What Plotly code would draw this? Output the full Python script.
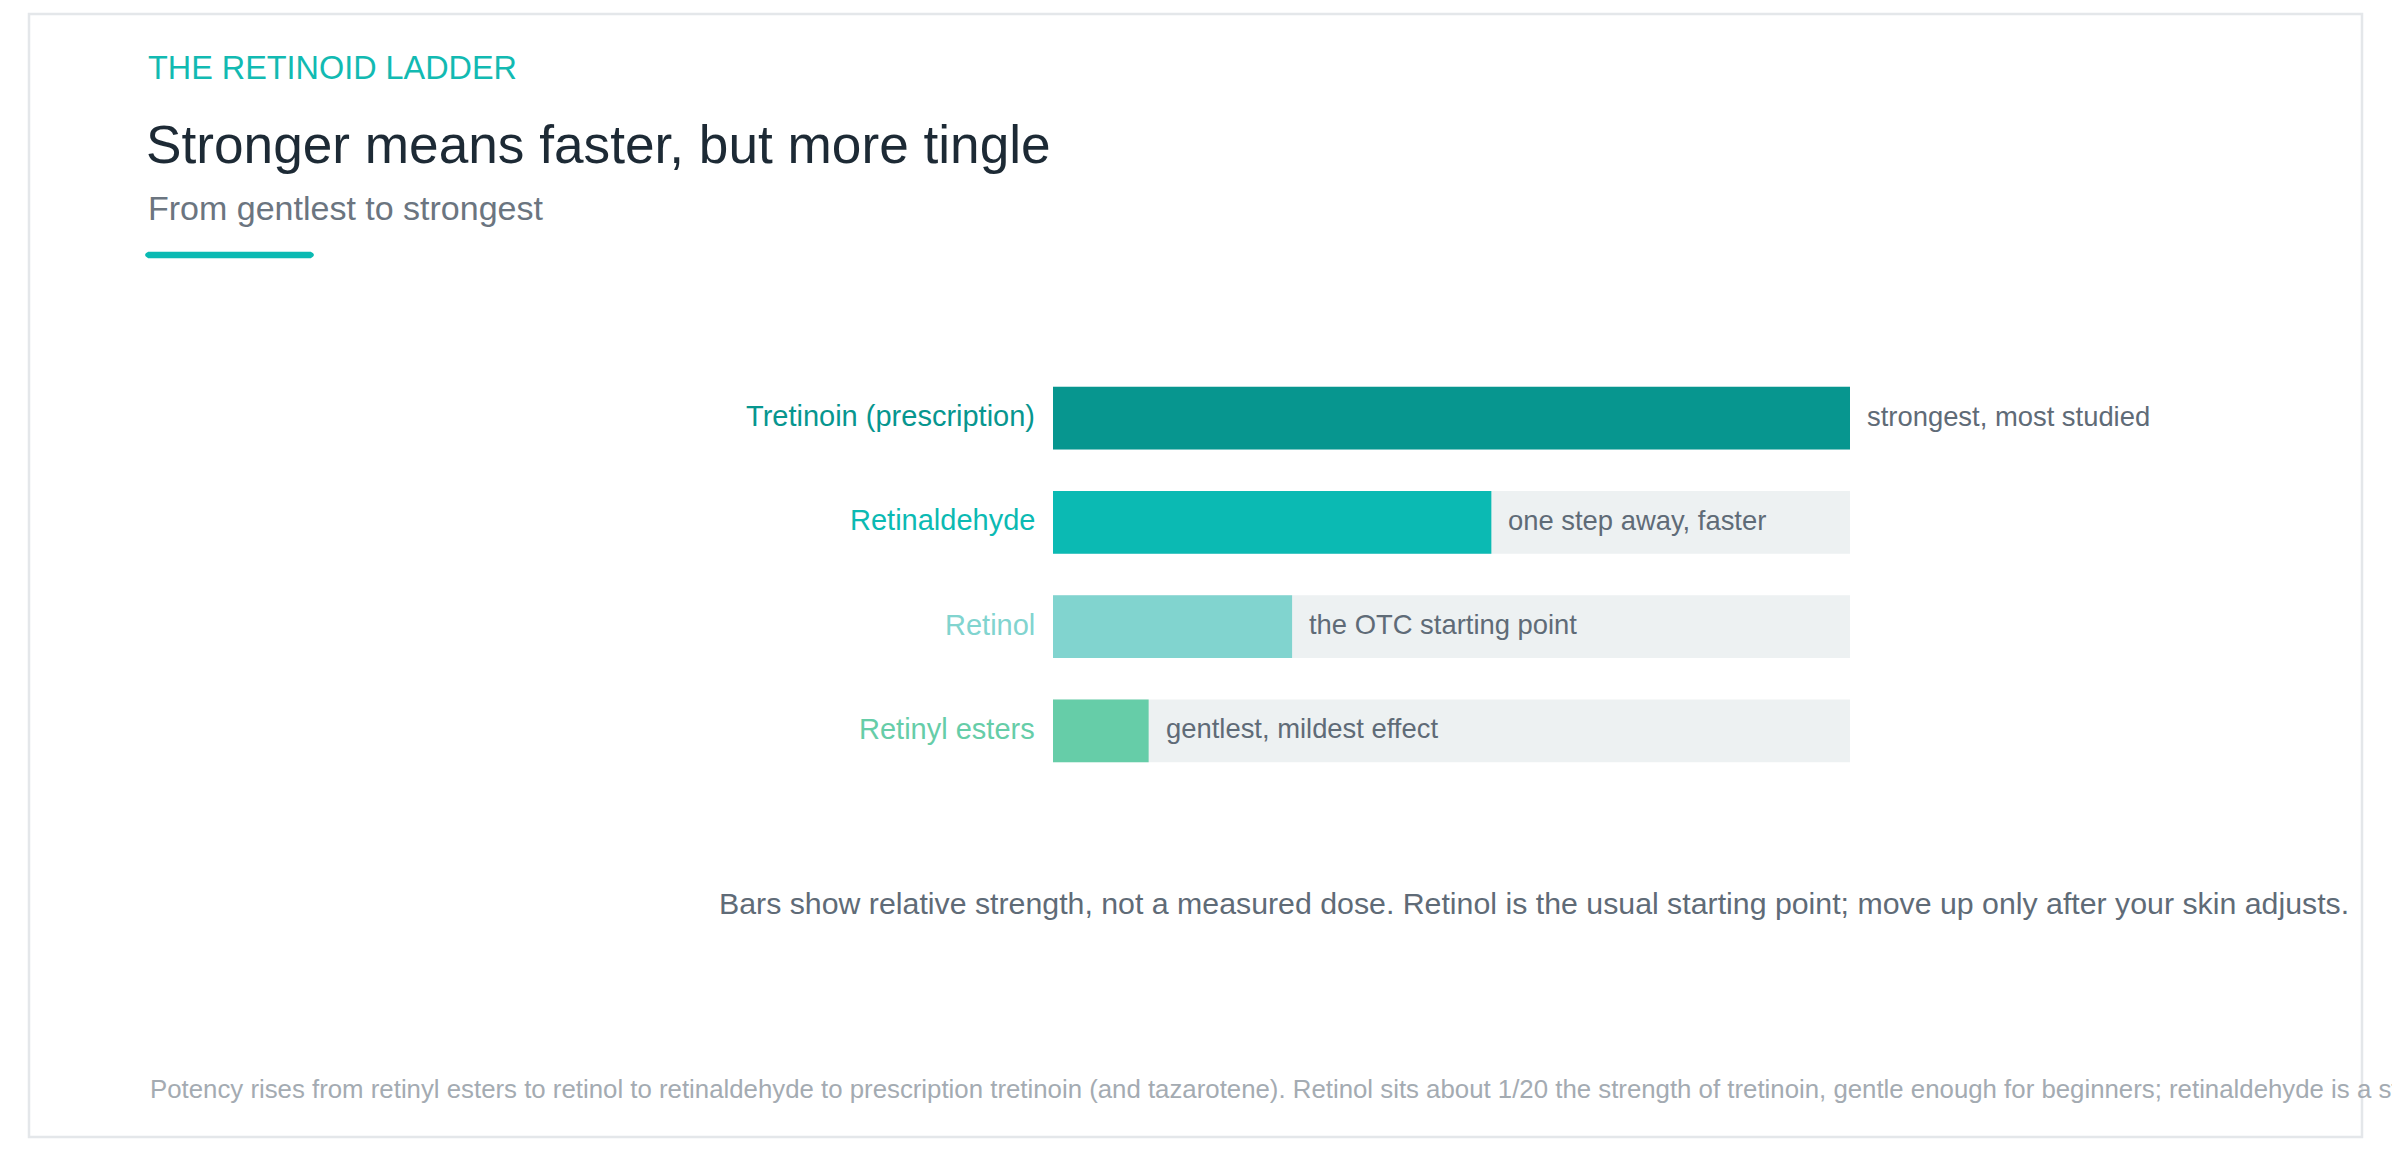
import plotly.graph_objects as go

# ---- data ----
categories = ["Tretinoin (prescription)", "Retinaldehyde", "Retinol", "Retinyl esters"]
strength = [100, 55, 30, 12]
notes = ["strongest, most studied", "one step away, faster", "the OTC starting point", "gentlest, mildest effect"]
bar_colors = ["#07968f", "#0bbab3", "#81d4cf", "#66cda8"]
track_max = 100

eyebrow = "THE RETINOID LADDER"
title = "Stronger means faster, but more tingle"
subtitle = "From gentlest to strongest"
note_text = ("Bars show relative strength, not a measured dose. Retinol is the usual starting point; "
             "move up only after your skin adjusts.")
footer_text = ("Potency rises from retinyl esters to retinol to retinaldehyde to prescription tretinoin "
               "(and tazarotene). Retinol sits about 1/20 the strength of tretinoin, gentle enough for "
               "beginners; retinaldehyde is a step closer to tretinoin, working faster with a little more irritation.")

# ---- layout geometry (pixels) ----
W, H = 2392, 1150
PL, PR = 1053, 1850     # plot area left/right
PT, PB = 366, 783       # plot area top/bottom
FONT = "Liberation Sans, Arial, Helvetica, sans-serif"


def px(x):
    return (x - PL) / (PR - PL)


def py(y):
    return (PB - y) / (PB - PT)


fig = go.Figure()
fig.add_trace(go.Bar(
    y=categories, x=[track_max] * len(categories), orientation="h",
    marker=dict(color="#edf1f2", line=dict(width=0)), width=0.6,
    hoverinfo="skip", showlegend=False))
fig.add_trace(go.Bar(
    y=categories, x=strength, orientation="h",
    marker=dict(color=bar_colors, line=dict(width=0)), width=0.6,
    hovertemplate="%{y}: %{x}<extra></extra>", showlegend=False))

annotations = []
# category labels
for cat, col in zip(categories, bar_colors):
    annotations.append(dict(x=0, xref="paper", y=cat, yref="y", text=cat, showarrow=False,
                            xanchor="right", yanchor="middle", xshift=-16, yshift=2,
                            font=dict(family=FONT, size=29, color=col)))
# value notes
for cat, v, n in zip(categories, strength, notes):
    annotations.append(dict(x=v, xref="x", y=cat, yref="y", text=n, showarrow=False,
                            xanchor="left", yanchor="middle", xshift=15, yshift=2,
                            font=dict(family=FONT, size=27.4, color="#5f6b77")))

annotations += [
    dict(x=px(146), y=py(68), xref="paper", yref="paper", text=eyebrow, showarrow=False,
         xanchor="left", yanchor="middle", font=dict(family=FONT, size=32.4, color="#12bab2")),
    dict(x=px(144), y=py(145), xref="paper", yref="paper", text=title, showarrow=False,
         xanchor="left", yanchor="middle", font=dict(family=FONT, size=53.2, color="#1d2a35")),
    dict(x=px(146), y=py(208), xref="paper", yref="paper", text=subtitle, showarrow=False,
         xanchor="left", yanchor="middle", font=dict(family=FONT, size=34, color="#6b7580")),
    dict(x=px(717), y=py(903), xref="paper", yref="paper", text=note_text, showarrow=False,
         xanchor="left", yanchor="middle", font=dict(family=FONT, size=30.3, color="#5f6b77")),
    dict(x=px(148), y=py(1089), xref="paper", yref="paper", text=footer_text, showarrow=False,
         xanchor="left", yanchor="middle", font=dict(family=FONT, size=25.8, color="#a4abb2")),
]

# decorative shapes: card border and accent rule with rounded ends
x0, x1, yc, r = 145, 314, 255, 3.2
accent_path = (f"M {px(x0 + r)},{py(yc - r)} L {px(x1 - r)},{py(yc - r)} "
               f"Q {px(x1 + r)},{py(yc)} {px(x1 - r)},{py(yc + r)} "
               f"L {px(x0 + r)},{py(yc + r)} Q {px(x0 - r)},{py(yc)} {px(x0 + r)},{py(yc - r)} Z")
shapes = [
    dict(type="rect", xref="paper", yref="paper", x0=px(29), x1=px(2362), y0=py(1137), y1=py(14),
         line=dict(color="#e4e7ea", width=2.5), fillcolor="rgba(0,0,0,0)", layer="below"),
    dict(type="path", xref="paper", yref="paper", path=accent_path,
         fillcolor="#0bbab3", line=dict(width=0)),
]

fig.update_layout(
    width=W, height=H, autosize=False,
    margin=dict(l=PL, r=W - PR, t=PT, b=H - PB, pad=0),
    paper_bgcolor="white", plot_bgcolor="white",
    barmode="overlay", bargap=0.4,
    xaxis=dict(range=[0, track_max], visible=False, fixedrange=True),
    yaxis=dict(type="category", categoryorder="array", categoryarray=categories,
               range=[len(categories) - 0.5, -0.5], visible=False, fixedrange=True),
    annotations=annotations, shapes=shapes,
    font=dict(family=FONT), showlegend=False,
)

fig.write_html("out.html", config={"displayModeBar": False})
